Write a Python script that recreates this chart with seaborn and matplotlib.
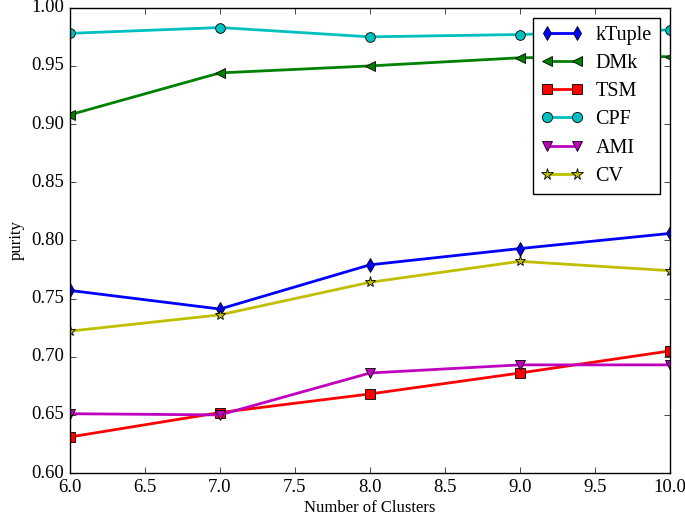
import matplotlib
matplotlib.use("Agg")
import matplotlib.pyplot as plt
import pandas as pd
import seaborn as sns

clusters = [6, 7, 8, 9, 10]
ktuple = [0.757, 0.741, 0.779, 0.793, 0.806]
dmk = [0.908, 0.944, 0.950, 0.957, 0.958]
tsm = [0.631, 0.652, 0.668, 0.686, 0.705]
cpf = [0.978, 0.983, 0.975, 0.977, 0.981]
ami = [0.651, 0.650, 0.686, 0.693, 0.693]
cv = [0.722, 0.736, 0.764, 0.782, 0.774]

names = ["kTuple", "DMk", "TSM", "CPF", "AMI", "CV"]
series = [ktuple, dmk, tsm, cpf, ami, cv]
colors = ["#0000ff", "#008000", "#ff0000", "#00bfbf", "#bf00bf", "#bfbf00"]
markers = ["d", "<", "s", "o", "v", "*"]

rows = []
for n, vals in zip(names, series):
    for c, v in zip(clusters, vals):
        rows.append({"clusters": c, "purity": v, "method": n})
df = pd.DataFrame(rows)

plt.style.use("classic")
plt.rcParams["font.family"] = ["Liberation Serif", "DejaVu Serif"]

fig, ax = plt.subplots(figsize=(6.85, 5.17), dpi=100)
for n, col, m in zip(names, colors, markers):
    sub = df[df["method"] == n]
    sns.lineplot(data=sub, x="clusters", y="purity", ax=ax, color=col,
                 marker=m, markersize=7 if m != "*" else 8, linewidth=2,
                 markeredgecolor="black", markeredgewidth=0.6, label=n)

ax.set_xlim(6, 10)
ax.set_ylim(0.60, 1.00)
ax.set_xticks([6.0, 6.5, 7.0, 7.5, 8.0, 8.5, 9.0, 9.5, 10.0])
ax.set_xticklabels(["6.0", "6.5", "7.0", "7.5", "8.0", "8.5", "9.0", "9.5", "10.0"])
ax.set_yticks([0.60, 0.65, 0.70, 0.75, 0.80, 0.85, 0.90, 0.95, 1.00])
ax.set_yticklabels(["0.60", "0.65", "0.70", "0.75", "0.80", "0.85", "0.90", "0.95", "1.00"])
ax.tick_params(labelsize=13.5)
ax.set_xlabel("Number of Clusters", fontsize=12, labelpad=3)
ax.set_ylabel("purity", fontsize=12)
ax.legend(loc="upper right", numpoints=2, fontsize=14.5, frameon=True,
          handlelength=2.1, handletextpad=0.6, labelspacing=0.45,
          borderaxespad=0.5, markerscale=1.05)

fig.subplots_adjust(left=0.102, right=0.978, top=0.985, bottom=0.085)
fig.savefig("out.png", dpi=100)
